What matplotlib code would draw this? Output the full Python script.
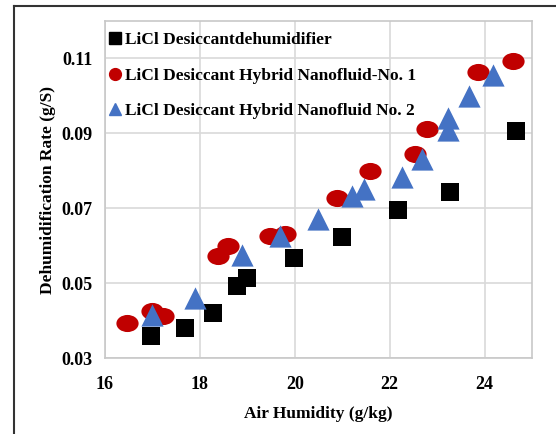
import numpy as np
import matplotlib
matplotlib.use("Agg")
import matplotlib.pyplot as plt
from matplotlib.path import Path
from matplotlib.transforms import Affine2D
from matplotlib.lines import Line2D

# data
x_base = [16.97, 17.68, 18.27, 18.78, 18.99, 19.98, 20.99, 22.17, 23.28, 24.67]
y_base = [0.0359, 0.0380, 0.0421, 0.0491, 0.0513, 0.0568, 0.0623, 0.0696, 0.0744, 0.0905]

x_nf1 = [16.46, 16.99, 17.22, 18.38, 18.59, 19.47, 19.79, 20.88, 21.58, 22.53, 22.78, 23.87, 24.59]
y_nf1 = [0.0394, 0.0425, 0.0413, 0.0573, 0.0599, 0.0625, 0.0631, 0.0727, 0.0799, 0.0845, 0.0911, 0.1063, 0.1093]

x_nf2 = [16.99, 17.89, 18.88, 19.68, 20.48, 21.20, 21.47, 22.25, 22.69, 23.22, 23.22, 23.68, 24.17]
y_nf2 = [0.0415, 0.0460, 0.0575, 0.0625, 0.0671, 0.0732, 0.0751, 0.0783, 0.0831, 0.0908, 0.0940, 0.0999, 0.1057]

labels = ["LiCl Desiccantdehumidifier",
          "LiCl Desiccant Hybrid Nanofluid-No. 1",
          "LiCl Desiccant Hybrid Nanofluid No. 2"]

x_ticks = [16, 18, 20, 22, 24]
y_ticks = [0.03, 0.05, 0.07, 0.09, 0.11]

plt.rcParams['font.family'] = ['Liberation Serif', 'DejaVu Serif']
plt.rcParams['font.weight'] = 'bold'

# slightly flattened circle, like the reference
ellipse = Path.unit_circle().transformed(Affine2D().scale(1.0, 0.77))

fig = plt.figure(figsize=(5.56, 4.34), dpi=100)
ax = fig.add_axes([0.1888, 0.1751, 0.768, 0.7765])

ax.scatter(x_base, y_base, marker='s', s=13.5**2, color='#000000', linewidths=0, zorder=3)
ax.plot(x_nf1, y_nf1, linestyle='none', marker=ellipse, markersize=16,
        color='#C00000', markeredgewidth=0, zorder=3)
ax.scatter(x_nf2, y_nf2, marker='^', s=16**2, color='#4472C4', linewidths=0, zorder=3)

ax.set_xlim(16, 25)
ax.set_ylim(0.03, 0.12)
ax.set_xticks(x_ticks)
ax.set_yticks(y_ticks)
ax.set_yticklabels([f"{v:.2f}" for v in y_ticks])
ax.grid(True, color='#d9d9d9', linewidth=1.2)
ax.set_axisbelow(True)
ax.tick_params(axis='x', length=0, labelsize=13, pad=13)
ax.tick_params(axis='y', length=0, labelsize=13, pad=9)
for s in ax.spines.values():
    s.set_color('#c8c8c8')
    s.set_linewidth(1.2)

ax.set_xlabel("Air Humidity (g/kg)", fontsize=12.5, fontweight='bold', labelpad=9)
ax.set_ylabel("Dehumidification Rate (g/S)", fontsize=12.5, fontweight='bold', labelpad=4)

handles = [
    Line2D([], [], linestyle='none', marker='s', markersize=8.5, color='#000000'),
    Line2D([], [], linestyle='none', marker='o', markersize=8.5, color='#C00000'),
    Line2D([], [], linestyle='none', marker='^', markersize=8.5, color='#4472C4'),
]
ax.legend(handles, labels, loc='upper left', bbox_to_anchor=(0.0, 0.982), frameon=False,
          handlelength=0.6, handletextpad=0.25, labelspacing=1.1,
          borderaxespad=0.1, borderpad=0.2, prop={'weight': 'bold', 'size': 12.5})

# chart area border (left and top only visible)
fig.add_artist(Line2D([14 / 556, 14 / 556], [0, 1 - 6 / 434], color='#333333', linewidth=1.5))
fig.add_artist(Line2D([14 / 556, 1], [1 - 6 / 434, 1 - 6 / 434], color='#333333', linewidth=1.5))

fig.savefig("out.png", dpi=100)
